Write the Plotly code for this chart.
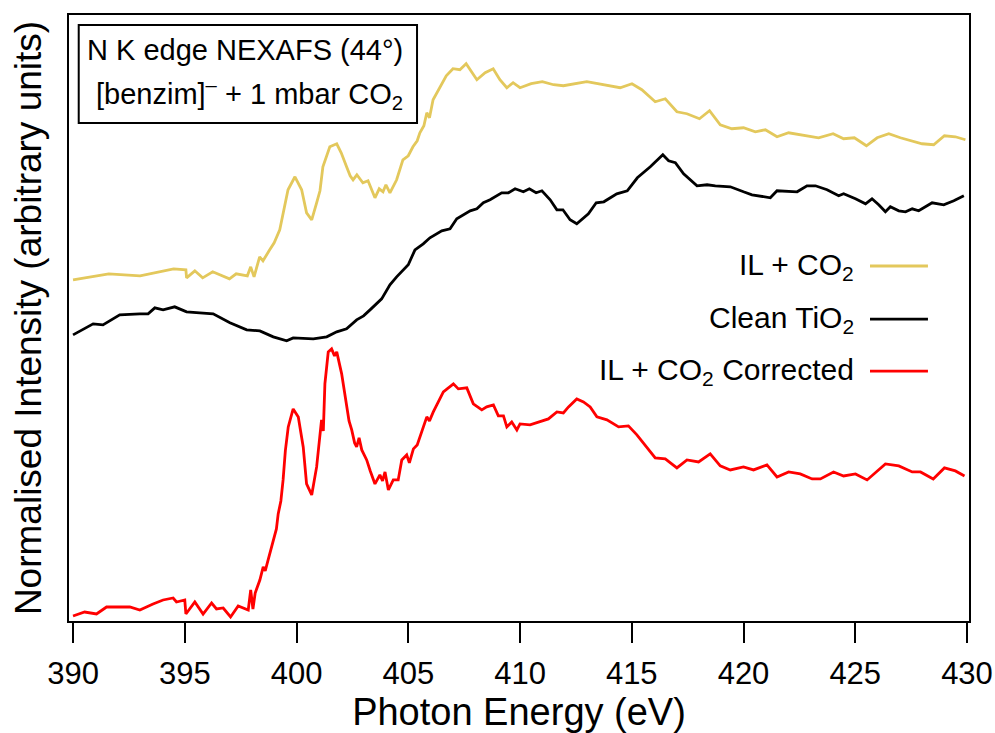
import plotly.graph_objects as go

# ---- data (Photon Energy in eV, intensity in arbitrary units) ----
il_co2_x = [390.0, 390.9, 391.6, 393.0, 394.5, 395.05, 395.08, 395.45, 395.8, 396.25, 396.6, 397.0,
            397.3, 397.8, 397.95, 398.1, 398.35, 398.5, 398.8, 399.0, 399.25, 399.45, 399.62, 399.93,
            400.23, 400.45, 400.68, 400.9, 401.05, 401.18, 401.35, 401.49, 401.8, 402.0, 402.24, 402.4,
            402.53, 402.7, 402.97, 403.2, 403.51, 403.7, 403.87, 404.0, 404.18, 404.48, 404.76, 405.0,
            405.21, 405.4, 405.52, 405.7, 405.83, 405.95, 406.11, 406.42, 406.7, 407.0, 407.31, 407.59,
            408.07, 408.44, 408.8, 409.1, 409.41, 409.69, 410.0, 410.5, 411.0, 411.5, 411.94, 412.99,
            413.89, 414.48, 415.01, 415.45, 416.05, 416.5, 417.02, 417.47, 418.03, 418.48, 418.96,
            419.48, 420.0, 420.53, 420.98, 421.5, 422.02, 422.84, 423.36, 424.01, 424.48, 424.96, 425.5,
            425.98, 426.5, 427.02, 427.47, 427.99, 428.51, 428.99, 429.48, 429.93]
il_co2_y = [341, 344, 347, 345, 352, 351, 343, 350, 343, 349, 346, 342,
            347, 345, 354, 344, 364, 360, 371, 378, 391, 412, 431, 444,
            431, 408, 401, 418, 430, 454, 465, 474, 477, 468, 454, 445,
            441, 446, 438, 440, 423, 432, 429, 436, 428, 441, 461, 465,
            474, 480, 488, 495, 508, 503, 521, 534, 545, 552, 551, 557,
            541, 548, 552, 541, 533, 538, 533, 537, 539, 536, 535, 539,
            535, 533, 537, 531, 519, 522, 509, 507, 502, 510, 496,
            492, 493, 489, 491, 484, 488, 485, 483, 487, 482, 483, 475,
            483, 487, 483, 480, 477, 476, 485, 484, 481]

clean_x = [390.0, 390.9, 391.34, 392.09, 392.99, 393.36, 393.66, 394.03, 394.55, 395.08, 395.67,
           396.27, 397.02, 397.77, 398.36, 398.96, 399.56, 399.85, 400.75, 401.35, 401.8, 402.24,
           402.69, 403.0, 403.29, 403.81, 404.18, 404.48, 405.0, 405.3, 405.67, 405.97, 406.5,
           406.87, 407.17, 407.77, 408.07, 408.36, 408.66, 409.18, 409.48, 409.78, 410.15, 410.42,
           410.72, 410.98, 411.35, 411.65, 411.92, 412.24, 412.54, 413.06, 413.41, 413.75, 414.33,
           414.8, 415.25, 415.83, 416.39, 416.65, 416.95, 417.32, 417.92, 418.37, 418.74, 419.41,
           420.0, 420.38, 421.2, 421.5, 422.4, 422.84, 423.22, 423.74, 424.26, 424.48, 425.01,
           425.46, 425.75, 426.05, 426.35, 426.57, 426.95, 427.25, 427.55, 427.84, 428.44, 428.96,
           429.41, 429.86]
clean_y = [286, 297, 296, 306, 307, 307, 313, 311, 314, 309, 308,
           307, 298, 291, 290, 284, 280, 283, 282, 284, 289, 292,
           301, 305, 311, 322, 336, 344, 356, 371, 377, 383, 390,
           392, 402, 410, 412, 418, 421, 428, 428, 432, 429, 432,
           428, 430, 421, 411, 411, 401, 397, 407, 418, 419, 427,
           430, 443, 454, 466, 460, 458, 447, 435, 436, 435, 434,
           429, 426, 423, 430, 429, 435, 435, 431, 425, 427, 422,
           417, 422, 416, 409, 414, 410, 409, 412, 410, 418, 416,
           420, 425]

corr_x = [390.0, 390.52, 391.05, 391.5, 392.54, 392.99, 393.58, 394.03, 394.48, 394.63, 395.0, 395.05,
          395.45, 395.82, 396.2, 396.42, 396.72, 397.05, 397.39, 397.84, 397.95, 398.05, 398.15, 398.36,
          398.51, 398.6, 398.73, 398.96, 399.1, 399.18, 399.3, 399.4, 399.5, 399.63, 399.85, 400.08,
          400.3, 400.45, 400.55, 400.68, 400.9, 401.12, 401.2, 401.27, 401.42, 401.57, 401.7, 401.8,
          402.02, 402.24, 402.35, 402.47, 402.6, 402.69, 402.8, 402.92, 403.14, 403.3, 403.51, 403.73,
          403.85, 403.96, 404.11, 404.33, 404.55, 404.71, 404.93, 405.05, 405.23, 405.4, 405.53, 405.65,
          405.83, 405.95, 406.12, 406.57, 407.02, 407.24, 407.62, 407.91, 408.29, 408.51, 408.81,
          409.03, 409.26, 409.41, 409.63, 409.86, 410.0, 410.45, 410.9, 411.27, 411.65, 411.94, 412.17,
          412.54, 412.84, 413.14, 413.44, 413.89, 414.41, 414.85, 415.23, 415.68, 416.05, 416.5,
          417.02, 417.47, 417.99, 418.51, 418.96, 419.41, 420.0, 420.45, 421.05, 421.5, 422.02,
          422.54, 423.07, 423.44, 424.03, 424.48, 425.01, 425.53, 425.83, 426.35, 426.95, 427.55,
          427.92, 428.49, 428.99, 429.48, 429.89]
corr_y = [5, 9, 7, 14, 14, 11, 17, 21, 23, 19, 21, 7,
          19, 7, 18, 12, 13, 4, 15, 11, 31, 12, 28, 41,
          54, 50, 61, 81, 92, 107, 120, 141, 170, 194, 212, 204,
          174, 137, 132, 126, 154, 201, 190, 237, 269, 272, 265, 269,
          247, 214, 200, 191, 178, 174, 183, 171, 161, 150, 137, 146,
          140, 149, 131, 141, 141, 161, 166, 158, 172, 176, 184, 192,
          204, 200, 209, 229, 237, 232, 233, 217, 211, 214, 216,
          205, 205, 194, 199, 191, 197, 196, 199, 202, 209, 208, 214,
          222, 219, 214, 204, 201, 194, 195, 186, 174, 163, 162,
          153, 161, 159, 167, 155, 151, 154, 151, 156, 144, 149,
          147, 142, 142, 149, 145, 147, 141, 147, 157, 155, 149,
          149, 142, 153, 150, 145]

series_names = ["IL + CO<sub>2</sub>", "Clean TiO<sub>2</sub>", "IL + CO<sub>2</sub> Corrected"]
series_colors = ["#E3C85C", "#000000", "#FF0000"]
x_ticks = [390, 395, 400, 405, 410, 415, 420, 425, 430]

FONT = "Liberation Sans, Arial, sans-serif"

fig = go.Figure()
for xs, ys, name, col in zip([il_co2_x, clean_x, corr_x], [il_co2_y, clean_y, corr_y],
                             series_names, series_colors):
    fig.add_trace(go.Scatter(x=xs, y=ys, mode="lines", name=name,
                             line=dict(color=col, width=2.8), showlegend=False))

# custom legend (text on the left, line sample on the right)
legend_y = [0.5858, 0.4983, 0.4125]
for name, col, yy in zip(series_names, series_colors, legend_y):
    fig.add_annotation(xref="paper", yref="paper", x=0.8745, y=yy, text=name, showarrow=False,
                       xanchor="right", yanchor="middle", font=dict(family=FONT, size=30, color="black"))
    fig.add_shape(type="line", xref="paper", yref="paper", x0=0.89, x1=0.9544, y0=yy, y1=yy,
                  line=dict(color=col, width=2.8))

# boxed annotation
fig.add_shape(type="rect", xref="paper", yref="paper", x0=0.0108, x1=0.3867, y0=0.8217, y1=0.9835,
              line=dict(color="black", width=2), fillcolor="white", layer="above")
fig.add_annotation(xref="paper", yref="paper", x=0.1956, y=0.943, text="N K edge NEXAFS (44°)",
                   showarrow=False, xanchor="center", yanchor="middle",
                   font=dict(family=FONT, size=29, color="black"))
fig.add_annotation(xref="paper", yref="paper", x=0.2, y=0.8696,
                   text="[benzim]<sup>–</sup> + 1 mbar CO<sub>2</sub>",
                   showarrow=False, xanchor="center", yanchor="middle",
                   font=dict(family=FONT, size=29, color="black"))

fig.update_layout(
    width=995, height=733,
    margin=dict(l=69, r=26, t=15, b=112),
    paper_bgcolor="white", plot_bgcolor="white",
    font=dict(family=FONT, color="black"),
    xaxis=dict(range=[389.82, 430.09], tickvals=x_ticks, ticks="outside", ticklen=20, tickwidth=2,
               tickcolor="black", showline=True, mirror=True, linewidth=2, linecolor="black",
               showgrid=False, zeroline=False, tickfont=dict(size=31, family=FONT),
               ticklabelstandoff=4, automargin=False,
               title=dict(text="Photon Energy (eV)", font=dict(size=38, family=FONT), standoff=12)),
    yaxis=dict(range=[0, 605.7], showticklabels=False, ticks="", showline=True, mirror=True,
               linewidth=2, linecolor="black", showgrid=False, zeroline=False, automargin=False,
               title=dict(text="Normalised Intensity (arbitrary units)",
                          font=dict(size=37, family=FONT), standoff=14)),
)

fig.write_html("out.html")
